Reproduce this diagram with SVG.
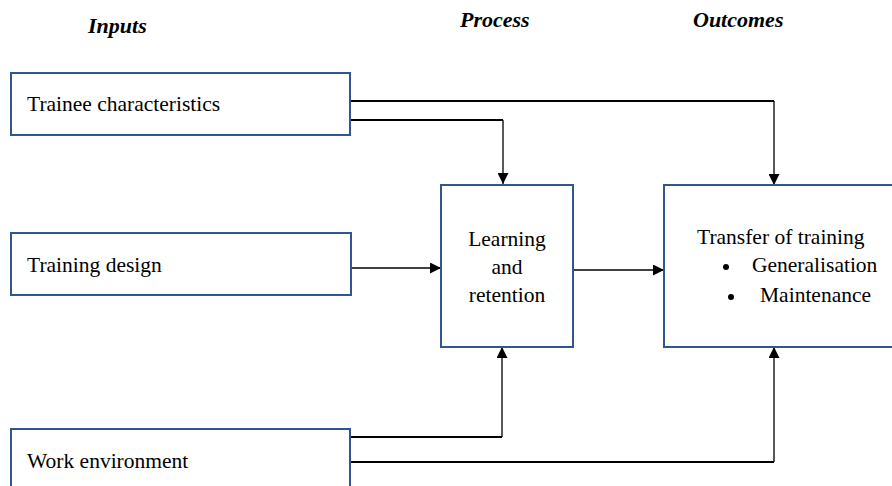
<svg xmlns="http://www.w3.org/2000/svg" width="892" height="486" viewBox="0 0 892 486" font-family="Liberation Serif, Times New Roman, serif">
<style>
.box{fill:#fff;stroke:#2f5597;stroke-width:2}
.t{font-size:21.5px;fill:#000}
.h{font-size:22px;font-weight:bold;font-style:italic;fill:#000}
.c{fill:none;stroke:#000;stroke-width:1.3}
.c2{fill:none;stroke:#000;stroke-width:2}
</style>
<defs>
<marker id="ar" viewBox="0 0 10 10" refX="10" refY="5" markerWidth="11" markerHeight="11" markerUnits="userSpaceOnUse" orient="auto">
<path d="M0,0 L10,5 L0,10 z" fill="#000"/>
</marker>
</defs>
<g id="headers">
<text class="h" x="88" y="33">Inputs</text>
<text class="h" x="460" y="27">Process</text>
<text class="h" x="693" y="27">Outcomes</text>
</g>
<g id="connectors">
<path class="c2" d="M350,101 H774"/><path class="c" d="M774,101 V185" marker-end="url(#ar)"/>
<path class="c2" d="M350,120 H503"/><path class="c" d="M503,120 V184" marker-end="url(#ar)"/>
<path class="c" d="M351,268 H441" marker-end="url(#ar)"/>
<path class="c" d="M573,270 H664" marker-end="url(#ar)"/>
<path class="c2" d="M350,437 H502"/><path class="c" d="M502,437 V347" marker-end="url(#ar)"/>
<path class="c2" d="M350,462 H774"/><path class="c" d="M774,462 V347" marker-end="url(#ar)"/>
</g>
<g id="trainee">
<rect class="box" x="11" y="73" width="339" height="62"/>
<text class="t" x="27" y="111">Trainee characteristics</text>
</g>
<g id="design">
<rect class="box" x="11" y="233" width="340" height="62"/>
<text class="t" x="27" y="272">Training design</text>
</g>
<g id="environment">
<rect class="box" x="11" y="429" width="339" height="62"/>
<text class="t" x="27" y="468">Work environment</text>
</g>
<g id="learning">
<rect class="box" x="441" y="185" width="132" height="162"/>
<text class="t" x="507" y="246" text-anchor="middle">Learning</text>
<text class="t" x="507" y="274" text-anchor="middle">and</text>
<text class="t" x="507" y="302" text-anchor="middle">retention</text>
</g>
<g id="transfer">
<rect class="box" x="664" y="185" width="236" height="162"/>
<text class="t" x="697" y="244">Transfer of training</text>
<circle cx="726" cy="267" r="3"/>
<text class="t" x="752" y="272">Generalisation</text>
<circle cx="731" cy="297" r="3"/>
<text class="t" x="760" y="302">Maintenance</text>
</g>
</svg>
